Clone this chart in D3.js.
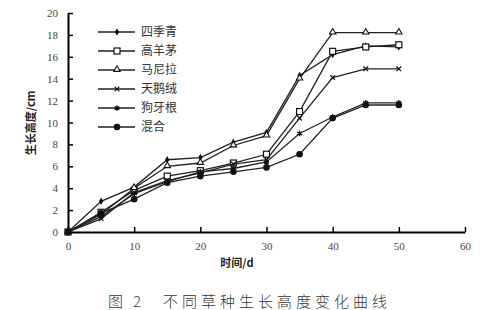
<!DOCTYPE html>
<meta charset="utf-8">
<style>
body { margin: 0; background: #fff; }
.tick text { font: 11px "Liberation Serif", serif; fill: #444; }
.lab { font: bold 11px "Noto Sans CJK SC", sans-serif; fill: #222; }
.leg { font: 12px "Noto Sans CJK SC", sans-serif; fill: #333; }
.cap { font: 15px "Noto Sans CJK SC", sans-serif; fill: #333; font-weight: 300; }
</style>
<svg width="493" height="310"></svg>
<script src="https://d3js.org/d3.v7.min.js"></script>
<script>

var days = [0, 5, 10, 15, 20, 25, 30, 35, 40, 45, 50];
var names = ["四季青", "高羊茅", "马尼拉", "天鹅绒", "狗牙根", "混合"];
var siJiQing   = [0, 2.8, 4.1, 6.6, 6.8, 8.2, 9.1, 14.3, 16.2, 17.0, 16.9];
var gaoYangMao = [0, 1.8, 3.8, 5.1, 5.6, 6.3, 7.1, 11.0, 16.5, 16.9, 17.1];
var maNiLa     = [0, 1.6, 4.0, 6.0, 6.3, 7.9, 8.8, 14.0, 18.2, 18.2, 18.2];
var tianERong  = [0, 1.2, 3.6, 4.7, 5.4, 6.2, 6.6, 10.4, 14.1, 14.9, 14.9];
var gouYaGen   = [0, 1.4, 3.5, 4.6, 5.5, 5.8, 6.4, 9.0, 10.5, 11.8, 11.8];
var hunHe      = [0, 1.7, 3.0, 4.5, 5.1, 5.5, 5.9, 7.1, 10.4, 11.6, 11.6];
var xTicks = [0, 10, 20, 30, 40, 50, 60];
var yTicks = [0, 2, 4, 6, 8, 10, 12, 14, 16, 18, 20];

var series = [siJiQing, gaoYangMao, maNiLa, tianERong, gouYaGen, hunHe];
var markers = ["diamond", "square", "triangle", "x", "star", "circle"];

var svg = d3.select("svg");
var x = d3.scaleLinear().domain([0, 60]).range([68, 465]);
var y = d3.scaleLinear().domain([0, 20]).range([232, 13]);

// axes, ticks pointing inward
var xAxis = svg.append("g").attr("transform", "translate(0," + y(0) + ")")
    .call(d3.axisBottom(x).tickValues(xTicks).tickSizeInner(-5).tickSizeOuter(0).tickPadding(10));
var yAxis = svg.append("g").attr("transform", "translate(" + x(0) + ",0)")
    .call(d3.axisLeft(y).tickValues(yTicks).tickSizeInner(-5).tickSizeOuter(0).tickPadding(10));
svg.selectAll(".domain").attr("stroke", "#000").attr("stroke-width", 2);
svg.selectAll(".tick line").attr("stroke", "#000").attr("stroke-width", 1.5);

svg.append("text").attr("class", "lab")
    .attr("transform", "translate(31,123) rotate(-90)")
    .attr("text-anchor", "middle").attr("dy", "0.35em")
    .text("生长高度/cm");
svg.append("text").attr("class", "lab")
    .attr("x", 237).attr("y", 263).attr("text-anchor", "middle").attr("dy", "0.35em")
    .text("时间/d");

// caption
var cap = svg.append("text").attr("class", "cap").attr("y", 302).attr("dy", "0.35em");
cap.append("tspan").attr("x", 108).text("图");
cap.append("tspan").attr("x", 133).text("2");
cap.append("tspan").attr("x", 163).attr("textLength", 224).attr("lengthAdjust", "spacing")
    .text("不同草种生长高度变化曲线");

function drawMarker(g, type, cx, cy) {
  if (type == "diamond") {
    g.append("path").attr("d", d3.symbol(d3.symbolDiamond, 16)())
      .attr("transform", "translate(" + cx + "," + cy + ")").attr("fill", "#111");
  } else if (type == "square") {
    g.append("rect").attr("x", cx - 3).attr("y", cy - 3).attr("width", 6).attr("height", 6)
      .attr("fill", "#fff").attr("stroke", "#111").attr("stroke-width", 1.2);
  } else if (type == "triangle") {
    g.append("path").attr("d", d3.symbol(d3.symbolTriangle, 18)())
      .attr("transform", "translate(" + cx + "," + (cy - 0.5) + ")")
      .attr("fill", "#fff").attr("stroke", "#111").attr("stroke-width", 1.1);
  } else if (type == "x") {
    g.append("path").attr("d", d3.symbol(d3.symbolX, 16)())
      .attr("transform", "translate(" + cx + "," + cy + ")")
      .attr("fill", "none").attr("stroke", "#111").attr("stroke-width", 1.2);
  } else if (type == "star") {
    g.append("path").attr("d", d3.symbol(d3.symbolAsterisk, 22)())
      .attr("transform", "translate(" + cx + "," + cy + ")")
      .attr("fill", "none").attr("stroke", "#111").attr("stroke-width", 1.3);
  } else {
    g.append("circle").attr("cx", cx).attr("cy", cy).attr("r", 3.3).attr("fill", "#111");
  }
}

var line = d3.line().x(function(d, i) { return x(days[i]); }).y(function(d) { return y(d); });

series.forEach(function(s, k) {
  var g = svg.append("g");
  g.append("path").attr("d", line(s)).attr("fill", "none")
    .attr("stroke", "#222").attr("stroke-width", 1.3);
  s.forEach(function(v, i) { drawMarker(g, markers[k], x(days[i]), y(v)); });
});

// legend
names.forEach(function(n, k) {
  var ly = 32 + k * 19;
  var g = svg.append("g");
  g.append("line").attr("x1", 98).attr("x2", 135).attr("y1", ly).attr("y2", ly)
    .attr("stroke", "#222").attr("stroke-width", 1.3);
  drawMarker(g, markers[k], 117, ly);
  g.append("text").attr("class", "leg").attr("x", 141).attr("y", ly).attr("dy", "0.35em").text(n);
});

</script>
